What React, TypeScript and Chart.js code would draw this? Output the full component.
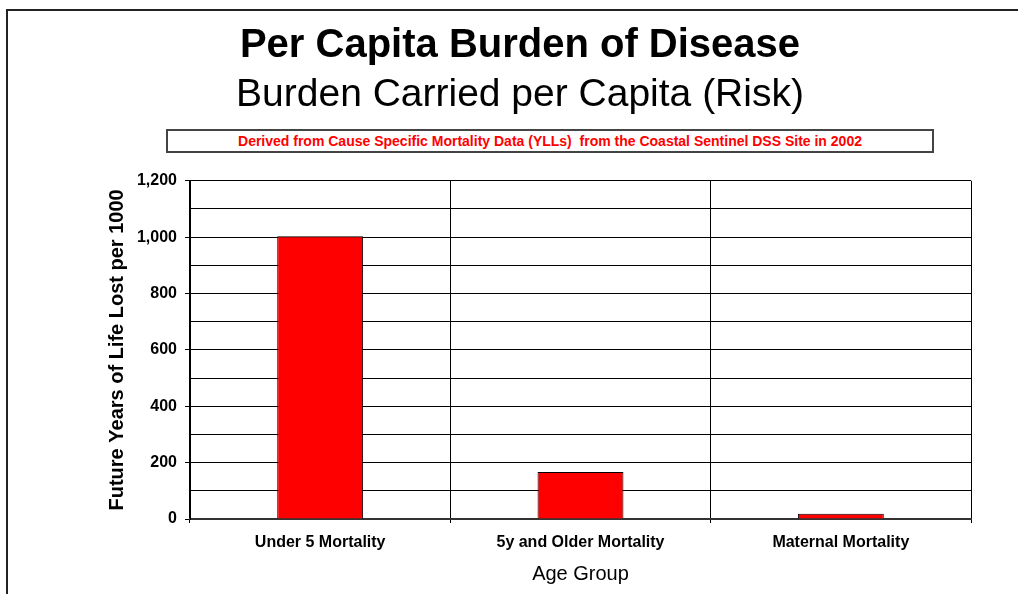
import React, { useEffect, useRef } from 'react';
import { Chart, registerables } from 'chart.js';

Chart.register(...registerables);

const FONT = "'Liberation Sans', Arial, Helvetica, sans-serif";

const categories = ['Under 5 Mortality', '5y and Older Mortality', 'Maternal Mortality'];
const values = [1003, 167, 19];
const yMin = 0;
const yMax = 1200;
const yStep = 100;
const yLabelEvery = 200;

const titleText = 'Per Capita Burden of Disease';
const subtitleText = 'Burden Carried per Capita (Risk)';
const noteText = 'Derived from Cause Specific Mortality Data (YLLs)  from the Coastal Sentinel DSS Site in 2002';
const xTitle = 'Age Group';
const yTitle = 'Future Years of Life Lost per 1000';

export default function App() {
  const canvasRef = useRef<HTMLCanvasElement | null>(null);

  useEffect(() => {
    if (!canvasRef.current) return;
    const chart = new Chart(canvasRef.current, {
      type: 'bar',
      data: {
        labels: categories,
        datasets: [
          {
            data: values,
            backgroundColor: '#FF0000',
            borderColor: '#000000',
            borderWidth: 1,
            categoryPercentage: 1,
            barPercentage: 0.33,
          },
        ],
      },
      options: {
        responsive: false,
        animation: false,
        layout: { padding: { left: 69, right: 47, top: 0, bottom: 0 } },
        plugins: {
          legend: { display: false },
          tooltip: { enabled: false },
          title: {
            display: true,
            text: titleText,
            color: '#000',
            font: { family: FONT, size: 40, weight: 'bold' },
            padding: { top: 22, bottom: 0 },
          },
          subtitle: {
            display: true,
            text: subtitleText,
            color: '#000',
            font: { family: FONT, size: 39, weight: 'normal' },
            padding: { top: 2, bottom: 62 },
          },
        },
        scales: {
          x: {
            grid: { offset: true, color: '#000', lineWidth: 1, tickLength: 4 },
            border: { color: '#333', width: 2 },
            ticks: {
              color: '#000',
              font: { family: FONT, size: 16, weight: 'bold' },
              padding: 10,
              maxRotation: 0,
            },
            title: {
              display: true,
              text: xTitle,
              color: '#000',
              font: { family: FONT, size: 20, weight: 'normal' },
              padding: { top: 0, bottom: 8 },
            },
            afterFit: (s: any) => {
              s.height = 75;
            },
          },
          y: {
            min: yMin,
            max: yMax,
            grid: {
              color: '#000',
              lineWidth: 1,
              tickLength: 5,
              tickColor: (ctx: any) =>
                ctx.tick && ctx.tick.value % yLabelEvery === 0 ? '#000' : 'rgba(0,0,0,0)',
            },
            border: { color: '#000', width: 1 },
            ticks: {
              stepSize: yStep,
              autoSkip: false,
              color: '#000',
              padding: 8,
              font: { family: FONT, size: 16, weight: 'bold' },
              callback: (v: any) => (Number(v) % yLabelEvery === 0 ? Number(v).toLocaleString('en-US') : ''),
            },
            title: {
              display: true,
              text: yTitle,
              color: '#000',
              font: { family: FONT, size: 20, weight: 'bold' },
              padding: { top: 36, bottom: 0 },
            },
            afterFit: (s: any) => {
              s.width = 121;
            },
          },
        },
      },
    });
    return () => chart.destroy();
  }, []);

  return (
    <div style={{ position: 'absolute', left: 0, top: 0, width: 1018, height: 594, overflow: 'hidden', background: '#fff' }}>
      <div
        style={{
          position: 'absolute',
          left: 6,
          top: 9,
          width: 1030,
          height: 600,
          borderTop: '2px solid #222',
          borderLeft: '2px solid #222',
        }}
      />
      <canvas
        ref={canvasRef}
        width={1018}
        height={594}
        style={{ position: 'absolute', left: 0, top: 0, width: 1018, height: 594 }}
      />
      <div
        style={{
          position: 'absolute',
          left: 166,
          top: 129,
          width: 764,
          height: 20,
          border: '2px solid #444',
          background: '#fff',
          color: '#FF0000',
          fontFamily: FONT,
          fontWeight: 'bold',
          fontSize: 14,
          lineHeight: '20px',
          textAlign: 'center',
          whiteSpace: 'pre',
        }}
      >
        {noteText}
      </div>
    </div>
  );
}
